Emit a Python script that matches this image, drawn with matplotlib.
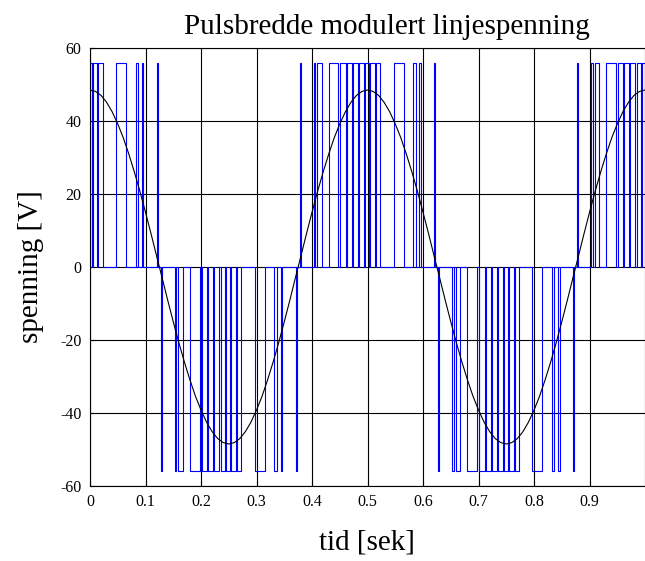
# PWM line voltage (pulse-width modulated) with its fundamental sine
import numpy as np
import matplotlib
matplotlib.use("Agg")
import matplotlib.pyplot as plt

plt.rcParams['font.family'] = ['Liberation Serif', 'DejaVu Serif']
plt.rcParams['axes.unicode_minus'] = False

# pulse height [V]
pulse_level = 56

# positive pulses, start and end times [s]
pos_start = [0.0, 0.0049, 0.0148, 0.0470, 0.0820, 0.0936, 0.1205,
             0.3777, 0.4028, 0.4091, 0.4297, 0.4512, 0.4628, 0.4736, 0.4852,
             0.4951, 0.5049, 0.5148, 0.5470, 0.5820, 0.5936, 0.6205,
             0.8777, 0.9028, 0.9091, 0.9297, 0.9512, 0.9628, 0.9736, 0.9852,
             0.9951]
pos_end = [0.0031, 0.0130, 0.0228, 0.0650, 0.0865, 0.0963, 0.1223,
           0.3795, 0.4055, 0.4171, 0.4476, 0.4610, 0.4718, 0.4825, 0.4933,
           0.5031, 0.5130, 0.5228, 0.5650, 0.5865, 0.5963, 0.6223,
           0.8795, 0.9055, 0.9171, 0.9476, 0.9610, 0.9718, 0.9825, 0.9933,
           0.999]

# negative pulses
neg_start = [0.1277, 0.1528, 0.1591, 0.1797, 0.2012, 0.2128, 0.2236, 0.2352,
             0.2451, 0.2549, 0.2648, 0.2970, 0.3320, 0.3436, 0.3705,
             0.6277, 0.6528, 0.6591, 0.6797, 0.7012, 0.7128, 0.7236, 0.7352,
             0.7451, 0.7549, 0.7648, 0.7970, 0.8320, 0.8436, 0.8705]
neg_end = [0.1295, 0.1555, 0.1671, 0.1976, 0.2110, 0.2218, 0.2325, 0.2433,
           0.2531, 0.2630, 0.2728, 0.3150, 0.3365, 0.3463, 0.3723,
           0.6295, 0.6555, 0.6671, 0.6976, 0.7110, 0.7218, 0.7325, 0.7433,
           0.7531, 0.7630, 0.7728, 0.8150, 0.8365, 0.8463, 0.8723]

# fundamental (black curve), sampled every 0.01 s
sine_t = [round(0.01*k, 2) for k in range(101)]
sine_v = [48.5, 48.1, 47.0, 45.1, 42.5, 39.2, 35.4, 30.9, 26.0, 20.7, 15.0,
          9.1, 3.0, -3.0, -9.1, -15.0, -20.7, -26.0, -30.9, -35.4, -39.2,
          -42.5, -45.1, -47.0, -48.1, -48.5, -48.1, -47.0, -45.1, -42.5, -39.2,
          -35.4, -30.9, -26.0, -20.7, -15.0, -9.1, -3.0, 3.0, 9.1, 15.0,
          20.7, 26.0, 30.9, 35.4, 39.2, 42.5, 45.1, 47.0, 48.1, 48.5,
          48.1, 47.0, 45.1, 42.5, 39.2, 35.4, 30.9, 26.0, 20.7, 15.0,
          9.1, 3.0, -3.0, -9.1, -15.0, -20.7, -26.0, -30.9, -35.4, -39.2,
          -42.5, -45.1, -47.0, -48.1, -48.5, -48.1, -47.0, -45.1, -42.5, -39.2,
          -35.4, -30.9, -26.0, -20.7, -15.0, -9.1, -3.0, 3.0, 9.1, 15.0,
          20.7, 26.0, 30.9, 35.4, 39.2, 42.5, 45.1, 47.0, 48.1, 48.5]

x_ticklabels = ['0', '0.1', '0.2', '0.3', '0.4', '0.5', '0.6', '0.7', '0.8', '0.9']

# build the step waveform out of the pulse lists
pulses = [(a, b, pulse_level) for a, b in zip(pos_start, pos_end)]
pulses += [(a, b, -pulse_level) for a, b in zip(neg_start, neg_end)]
pulses.sort()
pwm_t, pwm_v = [0.0], [0.0]
for a, b, lev in pulses:
    pwm_t += [a, a, b, b]
    pwm_v += [0, lev, lev, 0]

fig = plt.figure(figsize=(6.45, 5.61), dpi=100)
ax = fig.add_axes([90/645, (561-486)/561, (644.5-90)/645, (486-48)/561])
ax.plot(pwm_t, pwm_v, color=(0, 0, 1), lw=0.8)
ax.plot(sine_t, sine_v, color='k', lw=0.8)
ax.set_xlim(0, 0.999)
ax.set_ylim(-60, 60)
ax.set_xticks(np.arange(0, 1.0, 0.1))
ax.set_xticklabels(x_ticklabels)
ax.set_yticks([-60, -40, -20, 0, 20, 40, 60])
ax.grid(True, color='k', lw=0.8)
ax.tick_params(direction='in', labelsize=11.5, pad=6)
ax.set_title("Pulsbredde modulert linjespenning", fontsize=21, pad=10, x=0.535)
ax.set_xlabel("tid [sek]", fontsize=21, labelpad=14)
ax.set_ylabel("spenning [V]", fontsize=21, labelpad=12)
fig.savefig("out.png", dpi=100)
